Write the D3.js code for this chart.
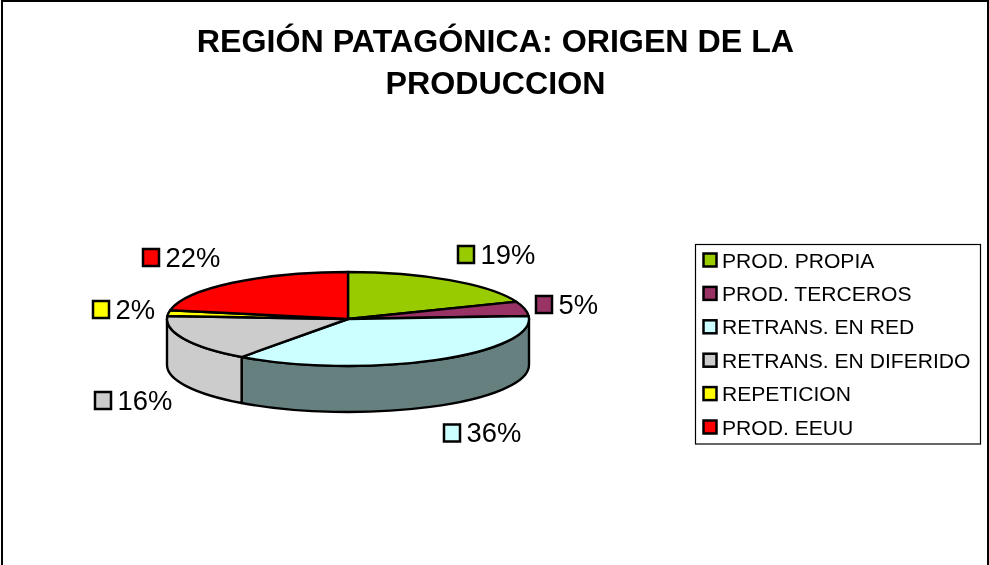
<!DOCTYPE html>
<html><head><meta charset="utf-8">
<script src="https://cdn.jsdelivr.net/npm/d3@7"></script>
<style>html,body{margin:0;padding:0;background:#fff}svg{display:block;filter:blur(0.35px)}text{font-family:"Liberation Sans",Arial,sans-serif;fill:#000}</style>
</head><body><svg id="c" width="989" height="565"></svg>
<script>
const titleLines = ["REGIÓN PATAGÓNICA: ORIGEN DE LA", "PRODUCCION"];
const categories = ["PROD. PROPIA","PROD. TERCEROS","RETRANS. EN RED","RETRANS. EN DIFERIDO","REPETICION","PROD. EEUU"];
const values = [19,5,36,16,2,22];
const topColors = ["#99CC00","#993366","#CCFFFF","#CCCCCC","#FFFF00","#FF0000"];
const wallColors = ["#668000","#662244","#668080","#CCCCCC","#808000","#800000"];
const labelPos = [[458,255],[536,305],[444,433.5],[95,401],[93,310],[143,258]];

const svg = d3.select("#c");
svg.append("rect").attr("x",2).attr("y",1).attr("width",986).attr("height",570)
  .attr("fill","#fff").attr("stroke","#000").attr("stroke-width",2);

svg.selectAll("text.title").data(titleLines).join("text").attr("class","title")
  .attr("x",495.5).attr("y",(d,i)=>51.5+i*42).attr("text-anchor","middle")
  .attr("font-size",32.2).attr("font-weight","bold").text(d=>d);

const cx=348, cy=319, rx=181, ry=47, depth=46;
const px=a=>cx+rx*Math.sin(a), py=a=>cy-ry*Math.cos(a);
const arcs=d3.pie().sort(null).value(d=>d)(values);
const g=svg.append("g").attr("stroke","#000").attr("stroke-width",2.4).attr("stroke-linejoin","round");

// side wall: the visible part is the front half of the rim (PI/2 to 3PI/2)
const vis=arcs.map((d,i)=>({i,a0:Math.max(d.startAngle,Math.PI/2),a1:Math.min(d.endAngle,3*Math.PI/2)}))
  .filter(d=>d.a1>d.a0);
g.selectAll("path.wall").data(vis).join("path").attr("class","wall")
  .attr("fill",d=>wallColors[d.i])
  .attr("d",d=>{
    const x0=px(d.a0),y0=py(d.a0),x1=px(d.a1),y1=py(d.a1);
    return `M${x0},${y0}A${rx},${ry} 0 0 1 ${x1},${y1}L${x1},${y1+depth}A${rx},${ry} 0 0 0 ${x0},${y0+depth}Z`;
  });
g.selectAll("path.top").data(arcs).join("path").attr("class","top")
  .attr("fill",(d,i)=>topColors[i])
  .attr("d",d=>{
    const la=d.endAngle-d.startAngle>Math.PI?1:0;
    return `M${cx},${cy}L${px(d.startAngle)},${py(d.startAngle)}A${rx},${ry} 0 ${la} 1 ${px(d.endAngle)},${py(d.endAngle)}Z`;
  });

const lab=svg.append("g").selectAll("g").data(values).join("g")
  .attr("transform",(d,i)=>`translate(${labelPos[i][0]},${labelPos[i][1]})`);
lab.append("rect").attr("x",0).attr("y",-9).attr("width",16).attr("height",17)
  .attr("fill",(d,i)=>topColors[i]).attr("stroke","#000").attr("stroke-width",2.5);
lab.append("text").attr("x",22.5).attr("y",8.8).attr("font-size",27.4).text(d=>d+"%");

const rowY=d3.scalePoint().domain(categories).range([260,427]);
svg.append("rect").attr("x",695.5).attr("y",244.5).attr("width",285).attr("height",199.5)
  .attr("fill","#fff").attr("stroke","#000").attr("stroke-width",1.2);
const leg=svg.append("g").selectAll("g").data(categories).join("g")
  .attr("transform",d=>`translate(703.5,${rowY(d)})`);
leg.append("rect").attr("x",0).attr("y",-6.5).attr("width",13).attr("height",13)
  .attr("fill",(d,i)=>topColors[i]).attr("stroke","#000").attr("stroke-width",2.5);
leg.append("text").attr("x",18.5).attr("y",7.5).attr("font-size",21.1).text(d=>d);
</script></body></html>
